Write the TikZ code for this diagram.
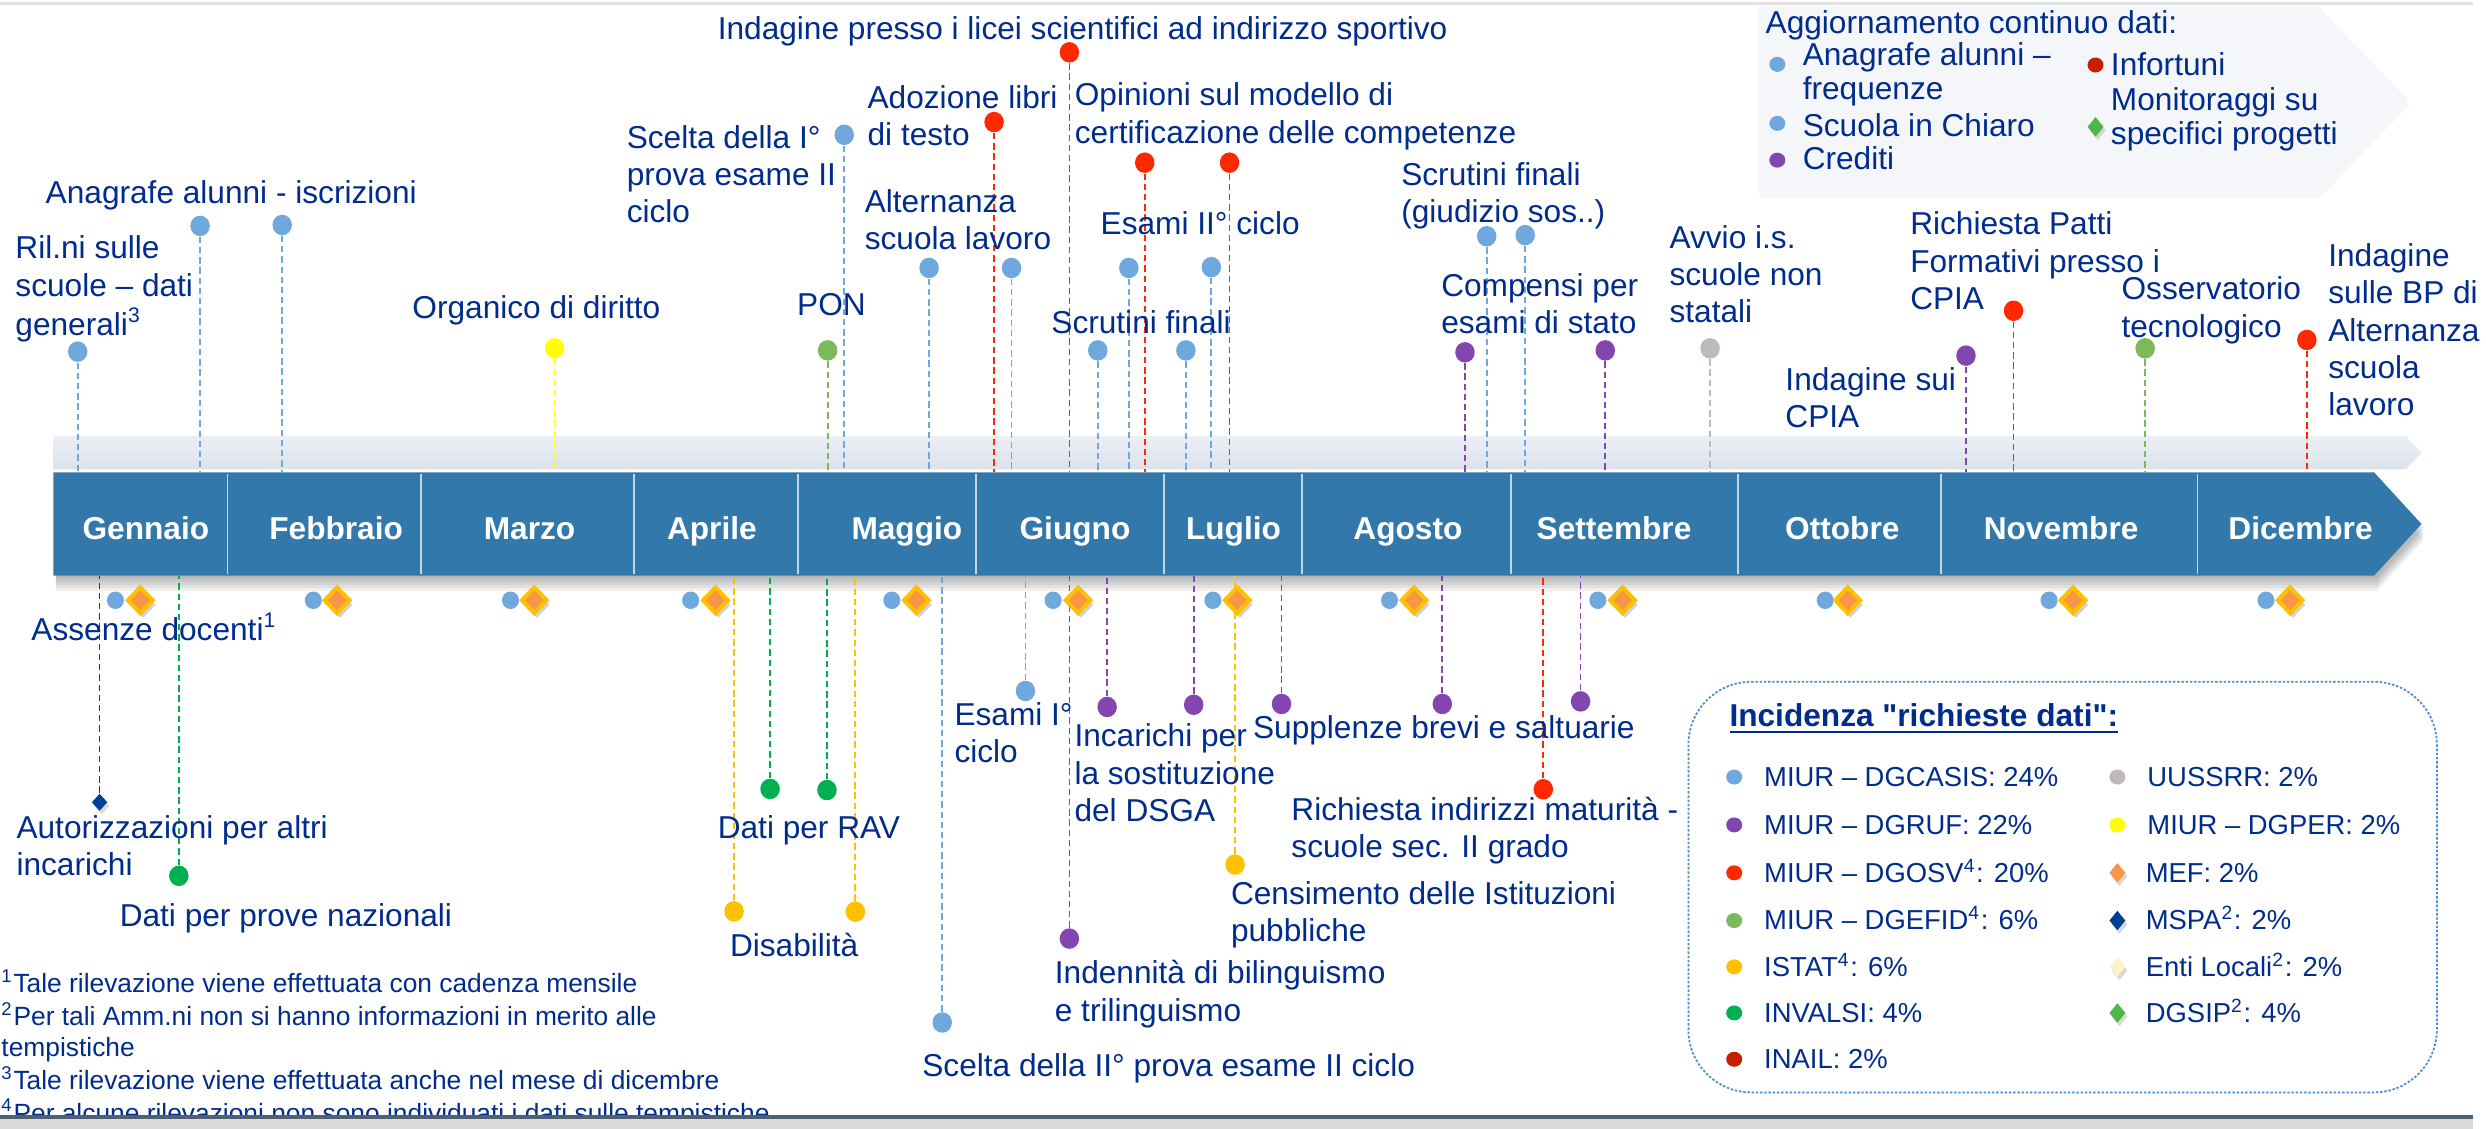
\documentclass[tikz,border=0pt]{standalone}
\usepackage{fontspec}
\setmainfont{Liberation Sans}
\usetikzlibrary{shapes.geometric,shadows}
\definecolor{lbltxt}{RGB}{0,44,140}
\definecolor{lblue}{RGB}{111,168,220}
\definecolor{cred}{RGB}{255,40,0}
\definecolor{cpurple}{RGB}{131,70,176}
\definecolor{cyel}{RGB}{255,255,0}
\definecolor{istat}{RGB}{255,192,0}
\definecolor{olive}{RGB}{124,185,90}
\definecolor{cgreen}{RGB}{0,176,80}
\definecolor{dred}{RGB}{200,30,0}
\definecolor{cgray}{RGB}{190,186,186}
\definecolor{corange}{RGB}{247,150,70}
\definecolor{cnavy}{RGB}{0,63,150}
\definecolor{ccream}{RGB}{255,242,204}
\definecolor{dgsip}{RGB}{76,184,71}
\definecolor{barblue}{RGB}{50,120,170}
\definecolor{bandtop}{RGB}{236,240,245}
\definecolor{bandbot}{RGB}{218,226,235}
\definecolor{boxfill}{RGB}{244,246,250}
\definecolor{topline}{RGB}{225,225,225}
\definecolor{botline}{RGB}{80,96,115}
\definecolor{legborder}{RGB}{80,140,200}
\newcommand{\mlines}[1]{\begin{tabular}[t]{@{}l@{}}#1\end{tabular}}
\begin{document}
\begin{tikzpicture}[x=0.015855cm,y=-0.015855cm,
  lbl/.style={anchor=base west, inner sep=0pt, text=lbltxt, font=\fontsize{9}{10.6}\selectfont},
  boxlbl/.style={anchor=base west, inner sep=0pt, text=lbltxt, font=\fontsize{9}{9.7}\selectfont},
  leg/.style={anchor=base west, inner sep=0pt, text=lbltxt, font=\fontsize{7.8}{9}\selectfont},
  month/.style={anchor=base, inner sep=0pt, text=white, font=\fontsize{9}{10}\selectfont\bfseries},
  dot/.style={ellipse, fill=#1, draw=none, inner sep=0pt, minimum width=1.95mm, minimum height=2.05mm},
  sdot/.style={ellipse, fill=#1, draw=none, inner sep=0pt, minimum width=1.7mm, minimum height=1.75mm},
  ldot/.style={ellipse, fill=#1, draw=none, inner sep=0pt, minimum width=1.6mm, minimum height=1.5mm},
  mdia/.style={diamond, fill=corange, draw=istat, line width=1.15pt, inner sep=0pt, aspect=1,
     minimum width=2.65mm, minimum height=2.75mm,
     drop shadow={shadow xshift=0.8pt, shadow yshift=-1.3pt, opacity=0.35}},
  ldia/.style={diamond, fill=#1, draw=none, inner sep=0pt, aspect=1,
     minimum width=1.65mm, minimum height=2mm,
     drop shadow={shadow xshift=0.6pt, shadow yshift=-1pt, opacity=0.3}},
  dl/.style={draw=#1, line width=0.5pt, dash pattern=on 1.8pt off 1.1pt},
  divider/.style={draw=white!70!barblue, line width=0.5pt}]
\useasboundingbox (0,0) rectangle (1568,712);
\fill[white] (0,0) rectangle (1568,712);
% top line
\draw[topline, line width=0.9pt] (0,2) -- (1560,2);
% top-right box
\fill[black, opacity=0.03, shift={(1,3)}] (1109,4) -- (1462,4) -- (1519,63) -- (1462,122) -- (1109,122) -- cycle;
\fill[boxfill] (1109,4) -- (1462,4) -- (1519,63) -- (1462,122) -- (1109,122) -- cycle;
% band
\shade[top color=bandtop, bottom color=bandbot] (33.7,275) -- (1517.4,275) -- (1527.3,285.5) -- (1517.4,296) -- (33.7,296) -- cycle;
% bar shadow
\foreach \s in {2,4,6,8,10}{
  \fill[black, opacity=0.06, shift={(1.5,\s)}] (33.7,298) -- (1497.5,298) -- (1527.3,330.5) -- (1497.5,363) -- (33.7,363) -- cycle;
}
% bar
\fill[barblue] (33.7,298) -- (1497.5,298) -- (1527.3,330.5) -- (1497.5,363) -- (33.7,363) -- cycle;
\foreach \x in {143.5,265.5,400,503.5,615.7,734,821.3,953,1096,1224,1386}
  \draw[divider] (\x,299) -- (\x,362);
\coordinate (bartop) at (0,298);
\coordinate (barbot) at (0,363);
% months
\foreach \n/\x/\t in {1/92/Gennaio,2/212/Febbraio,3/334/Marzo,4/449/Aprile,5/572/Maggio,6/678/Giugno,7/778/Luglio,8/888/Agosto,9/1018/Settembre,10/1162/Ottobre,11/1300/Novembre,12/1451/Dicembre}
  \node[month] (m\n) at (\x,340) {\t};
% top dots with dashed connectors
\foreach \n/\x/\y/\c in {1/49/221.8/lblue,2/126.2/142.5/lblue,3/178/141.9/lblue,4/349.8/219.7/cyel,5/522/221/olive,
  6/532.5/85/lblue,7/627/77/cred,8/674.5/33/cred,9/586/169/lblue,10/638/169/lblue,11/722/102.6/cred,12/775.5/102.6/cred,
  13/712/169/lblue,14/764/168.5/lblue,15/692.4/221/lblue,16/748/221/lblue,17/924/222.2/cpurple,18/1012.5/221/cpurple,
  19/937.7/149/lblue,20/962/148.3/lblue,21/1078.6/219.7/cgray,22/1240/224.3/cpurple,23/1270/196/cred,24/1353/219.7/olive,25/1455/214.4/cred}{
  \node[dot=\c] (t\n) at (\x,\y) {};
  \draw[dl=\c] (t\n.south) -- (t\n.south |- bartop);
}
% top labels
\node[lbl] (L1) at (9.3,163.3) {\mlines{Ril.ni sulle\\scuole – dati\\generali\textsuperscript{3}}};
\node[lbl] (L2) at (28.4,128.2) {Anagrafe alunni - iscrizioni};
\node[lbl] (L3) at (259.7,200.7) {Organico di diritto};
\node[lbl] (L4) at (502.4,198.7) {PON};
\node[lbl] (L5) at (394.9,93.5) {\mlines{Scelta della I°\\prova esame II\\ciclo}};
\node[lbl] (L6) at (452.3,25) {Indagine presso i licei scientifici ad indirizzo sportivo};
\node[lbl] (L7) at (546.8,68.3) {\mlines{Adozione libri\\di testo}};
\node[lbl] (L8) at (677.5,66.8) {\mlines{Opinioni sul modello di\\certificazione delle competenze}};
\node[lbl] (L9) at (545,133.9) {\mlines{Alternanza\\scuola lavoro}};
\node[lbl] (L10) at (693.8,148.2) {Esami II° ciclo};
\node[lbl] (L11) at (662.7,210.2) {Scrutini finali};
\node[lbl] (L12) at (883.4,116.7) {\mlines{Scrutini finali\\(giudizio sos..)}};
\node[lbl] (L13) at (908.6,187.1) {\mlines{Compensi per\\esami di stato}};
\node[lbl] (L14) at (1052.6,156.6) {\mlines{Avvio i.s.\\scuole non\\statali}};
\node[lbl] (L15) at (1125.7,246) {\mlines{Indagine sui\\CPIA}};
\node[lbl] (L16) at (1204.4,148.2) {\mlines{Richiesta Patti\\Formativi presso i\\CPIA}};
\node[lbl] (L17) at (1337.7,189.2) {\mlines{Osservatorio\\tecnologico}};
\node[lbl] (L18) at (1468.1,168.2) {\mlines{Indagine\\sulle BP di\\Alternanza\\scuola\\lavoro}};
% top-right box contents
\node[boxlbl] (A0) at (1113.2,21) {Aggiornamento continuo dati:};
\node[ldot=lblue] (A1d) at (1121,40.6) {};
\node[boxlbl] (A1) at (1136.6,41) {\mlines{Anagrafe alunni –\\frequenze}};
\node[ldot=lblue] (A2d) at (1121,77.8) {};
\node[boxlbl] (A2) at (1136.6,85.8) {Scuola in Chiaro};
\node[ldot=cpurple] (A3d) at (1121,101) {};
\node[boxlbl] (A3) at (1136.6,107) {Crediti};
\node[ldot=dred] (A4d) at (1321.7,41) {};
\node[boxlbl] (A4) at (1331,47.9) {\mlines{Infortuni\\Monitoraggi su\\specifici progetti}};
\node[ldia=dgsip] (A5d) at (1321.7,80) {};
% bottom dots with dashed connectors
\foreach \n/\x/\y/\c in {2/112.8/552.4/cgreen,3/463/574.8/istat,4/485.7/497.6/cgreen,5/521.6/498.3/cgreen,6/539.5/575/istat,
  7/594.3/644.9/lblue,8/646.8/435.8/lblue,9/674.5/592/cpurple,10/698.3/445.9/cpurple,11/752.9/444.5/cpurple,12/779/545.3/istat,
  13/808.3/444/cpurple,14/909.7/444/cpurple,15/973.4/497.8/cred,16/996.9/442.4/cpurple}{
  \node[dot=\c] (b\n) at (\x,\y) {};
  \draw[dl=\c] (b\n.north) -- (b\n.north |- barbot);
}
\node[ldia=cnavy, minimum width=1.6mm, minimum height=1.75mm] (b1) at (62.8,506) {};
\draw[dl=cnavy] (b1.north) -- (b1.north |- barbot);
% month markers
\foreach \n/\a/\b in {1/72.8/88.5,2/197.6/212.6,3/322/337,4/435.6/451.3,5/562.5/578,6/664.2/680,7/765/780.4,8/876.4/891.9,9/1007.8/1023.4,10/1151.2/1165.4,11/1292.4/1307.5,12/1429.2/1444.4}{
  \node[sdot=lblue] (md\n) at (\a,378.6) {};
  \node[mdia] (mk\n) at (\b,378.6) {};
}
% bottom labels
\node[lbl] (B1) at (19.4,404) {Assenze docenti\textsuperscript{1}};
\node[lbl] (B2) at (10,528.8) {\mlines{Autorizzazioni per altri\\incarichi}};
\node[lbl] (B3) at (75.1,584.3) {Dati per prove nazionali};
\node[lbl] (B4) at (452.3,528.8) {Dati per RAV};
\node[lbl] (B5) at (460,603.2) {Disabilità};
\node[lbl] (B6) at (581.3,678.8) {Scelta della II° prova esame II ciclo};
\node[lbl] (B7) at (601.6,457.6) {\mlines{Esami I°\\ciclo}};
\node[lbl] (B8) at (677.3,471.1) {\mlines{Incarichi per\\la sostituzione\\del DSGA}};
\node[lbl] (B9) at (664.9,620.5) {\mlines{Indennità di bilinguismo\\e trilinguismo}};
\node[lbl] (B10) at (776,570.3) {\mlines{Censimento delle Istituzioni\\pubbliche}};
\node[lbl] (B11) at (789.9,465.7) {Supplenze brevi e saltuarie};
\node[lbl] (B12) at (814.1,517.3) {\mlines{Richiesta indirizzi maturità -\\scuole sec. II grado}};
% legend box
\draw[legborder, line width=0.5pt, dash pattern=on 0.7pt off 0.5pt, fill=white, rounded corners=6.3mm] (1064.9,430) rectangle (1537,689);
\node[lbl, font=\fontsize{9}{10.6}\selectfont\bfseries] (LT) at (1090.4,458.3) {\underline{Incidenza \textquotedbl richieste dati\textquotedbl :}};
\foreach \n/\y/\c/\t in {1/490.1/lblue/{MIUR – DGCASIS: 24\%},2/520.3/cpurple/{MIUR – DGRUF: 22\%},3/550.5/cred/{MIUR – DGOSV\textsuperscript{4}: 20\%},
  4/580.6/olive/{MIUR – DGEFID\textsuperscript{4}: 6\%},5/609.8/istat/{ISTAT\textsuperscript{4}: 6\%},6/638.9/cgreen/{INVALSI: 4\%},7/668.1/dred/{INAIL: 2\%}}{
  \node[ldot=\c] (lg\n) at (1093.8,\y) {};
  \node[leg] (lt\n) at (1112.3,\y+5.8) {\t};
}
\node[ldot=cgray] (rg1) at (1335.5,490.1) {};
\node[leg] (rt1) at (1354,495.9) {UUSSRR: 2\%};
\node[ldot=cyel] (rg2) at (1335.5,520.3) {};
\node[leg] (rt2) at (1354,526.1) {MIUR – DGPER: 2\%};
\node[ldia=corange] (rg3) at (1335.5,550.5) {};
\node[leg] (rt3) at (1353,556.3) {MEF: 2\%};
\node[ldia=cnavy] (rg4) at (1335.5,580.6) {};
\node[leg] (rt4) at (1353,586.4) {MSPA\textsuperscript{2}: 2\%};
\node[ldia=ccream] (rg5) at (1335.5,609.8) {};
\node[leg] (rt5) at (1353,615.6) {Enti Locali\textsuperscript{2}: 2\%};
\node[ldia=dgsip] (rg6) at (1335.5,638.9) {};
\node[leg] (rt6) at (1353,644.7) {DGSIP\textsuperscript{2}: 4\%};
% footnotes
\node[anchor=base west, inner sep=0pt, text=lbltxt, font=\fontsize{7.5}{8.85}\selectfont] (FN) at (0.5,626.3)
  {\mlines{\textsuperscript{1}Tale rilevazione viene effettuata con cadenza mensile\\
  \textsuperscript{2}Per tali Amm.ni non si hanno informazioni in merito alle\\
  tempistiche\\
  \textsuperscript{3}Tale rilevazione viene effettuata anche nel mese di dicembre\\
  \textsuperscript{4}Per alcune rilevazioni non sono individuati i dati sulle tempistiche}};
% bottom line
\fill[black!14] (0,706) rectangle (1560,712);
\draw[botline, line width=1.4pt] (0,704.5) -- (1560,704.5);
\end{tikzpicture}
\end{document}
